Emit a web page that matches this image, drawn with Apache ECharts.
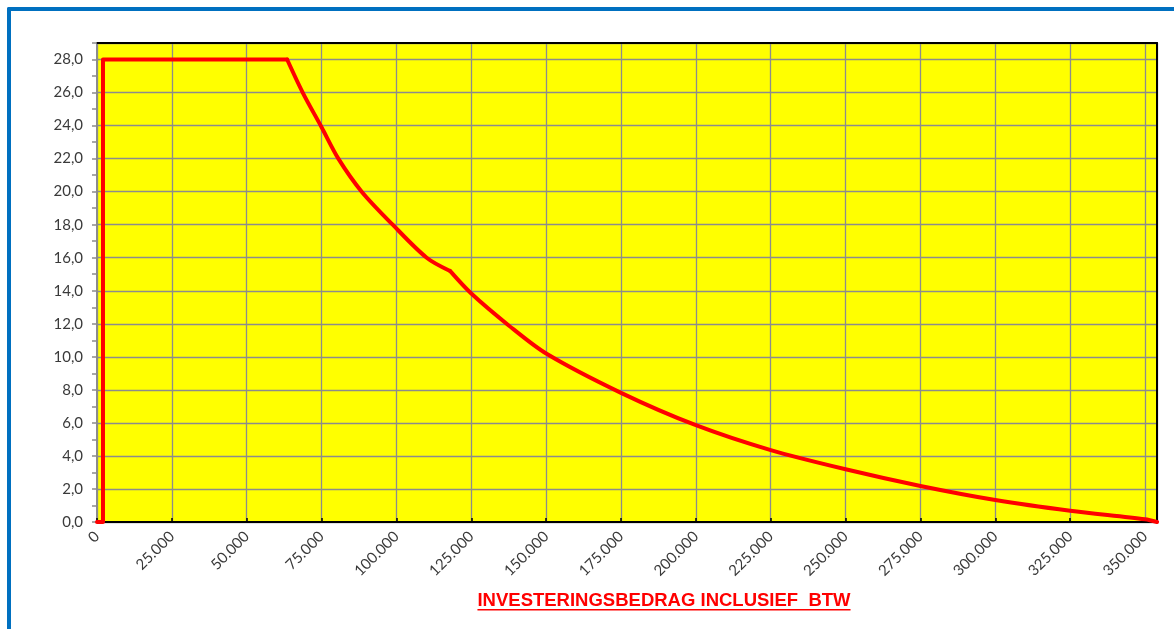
<!DOCTYPE html>
<html>
<head>
<meta charset="utf-8">
<script src="https://cdn.jsdelivr.net/npm/echarts@6/dist/echarts.min.js"></script>
<style>
  html, body { margin: 0; padding: 0; background: #fff; }
  #frame { position: absolute; left: 7px; top: 7px; width: 1200px; height: 700px;
           border-left: 4px solid #0070c0; border-top: 4px solid #0070c0; border-top-left-radius: 2px; }
  #chart { position: absolute; left: 0; top: 0; width: 1174px; height: 629px; }
</style>
</head>
<body>
<div id="frame"></div>
<div id="chart"></div>
<script>
// investeringsbedrag (euro) en bijbehorend percentage
var bedragen = [0, 2000, 2000, 63500, 68700, 75000, 80600, 88400, 98750, 110100, 117900,
                125000, 137500, 150000, 175000, 200000, 225000, 250000, 275000, 300000,
                325000, 350000, 354000];
var percentages = [0, 0, 28, 28, 26, 23.9, 22, 20, 18, 16, 15.2,
                   13.83, 11.9, 10.2, 7.82, 5.86, 4.35, 3.19, 2.18, 1.33,
                   0.68, 0.16, 0];
// punten waar de lijn een knik heeft (index in de arrays hierboven)
var knikken = [0, 3, 10, 22];

var xMax = 354000;
var yMax = 29;

var titel = 'INVESTERINGSBEDRAG INCLUSIEF  BTW';

function duizendtal(v) {
    return String(v).replace(/\B(?=(\d{3})+(?!\d))/g, '.');
}

var labelFont = { fontFamily: 'Lato', fontSize: 15, color: '#3a3a3a' };

// stukken lijn: eerste stuk recht, daarna vloeiend tussen de knikken
var series = [];
for (var k = 0; k < knikken.length - 1; k++) {
    var stuk = [];
    for (var i = knikken[k]; i <= knikken[k + 1]; i++) {
        stuk.push([bedragen[i], percentages[i]]);
    }
    series.push({
        type: 'line',
        data: stuk,
        symbol: 'none',
        clip: false,
        smooth: k == 0 ? false : 0.3,
        z: 5,
        lineStyle: { color: '#ff0000', width: 4, join: 'round', cap: 'round' }
    });
}

var myChart = echarts.init(document.getElementById('chart'), null, { renderer: 'canvas' });

var options = {
    animation: false,
    grid: {
        left: 97, top: 43, right: 17, bottom: 107,
        show: true, backgroundColor: '#ffff00', borderWidth: 0
    },
    xAxis: [
        {
            type: 'value', min: 0, max: xMax, interval: 25000,
            axisLine: { show: true, onZero: false, lineStyle: { color: '#000', width: 2 } },
            axisTick: { show: true, inside: true, length: 4, lineStyle: { color: '#000', width: 1.5 } },
            splitLine: { show: true, lineStyle: { color: '#8c8c8c', width: 1.3 } },
            axisLabel: Object.assign({
                rotate: 45, margin: 12, showMaxLabel: false,
                formatter: function(v) { return duizendtal(v); }
            }, labelFont)
        },
        {
            type: 'value', position: 'top', min: 0, max: xMax,
            axisLine: { show: true, onZero: false, lineStyle: { color: '#000', width: 2 } },
            axisTick: { show: false }, axisLabel: { show: false }, splitLine: { show: false }
        }
    ],
    yAxis: [
        {
            type: 'value', min: 0, max: yMax, interval: 2,
            axisLine: { show: true, onZero: false, lineStyle: { color: '#8c8c8c', width: 2 } },
            axisTick: { show: false },
            splitLine: { show: true, lineStyle: { color: '#8c8c8c', width: 1.3 } },
            axisLabel: Object.assign({
                margin: 14, showMaxLabel: false,
                formatter: function(v) { return v.toFixed(1).replace('.', ','); }
            }, labelFont)
        },
        {
            // alleen de kleine streepjes links
            type: 'value', position: 'left', min: 0, max: yMax, interval: 1,
            axisLine: { show: false },
            axisTick: { show: true, length: 5, lineStyle: { color: '#8c8c8c', width: 1.5 } },
            axisLabel: { show: false }, splitLine: { show: false }
        },
        {
            type: 'value', position: 'right', min: 0, max: yMax,
            axisLine: { show: true, onZero: false, lineStyle: { color: '#000', width: 2 } },
            axisTick: { show: false }, axisLabel: { show: false }, splitLine: { show: false }
        }
    ],
    series: series,
    graphic: [
        {
            type: 'text', id: 'titel', x: 664, y: 591, z: 10,
            style: { text: titel, fill: '#ff0000', font: 'bold 18.5px "Liberation Sans", Arial', align: 'center' }
        }
    ]
};
myChart.setOption(options);

// onderstreping onder de titel
var el = myChart.getZr().storage.getDisplayList().filter(function(d) {
    return d.style && d.style.text === titel;
})[0];
if (el) {
    var r = el.getBoundingRect();
    var m = el.getComputedTransform ? el.getComputedTransform() : null;
    var x0 = r.x + (m ? m[4] : 0), y1 = r.y + r.height + (m ? m[5] : 0);
    myChart.setOption({
        graphic: [
            { type: 'rect', id: 'streep', z: 10, shape: { x: x0, y: y1 - 1, width: r.width, height: 1.6 }, style: { fill: '#ff0000' } }
        ]
    });
}
</script>
</body>
</html>
